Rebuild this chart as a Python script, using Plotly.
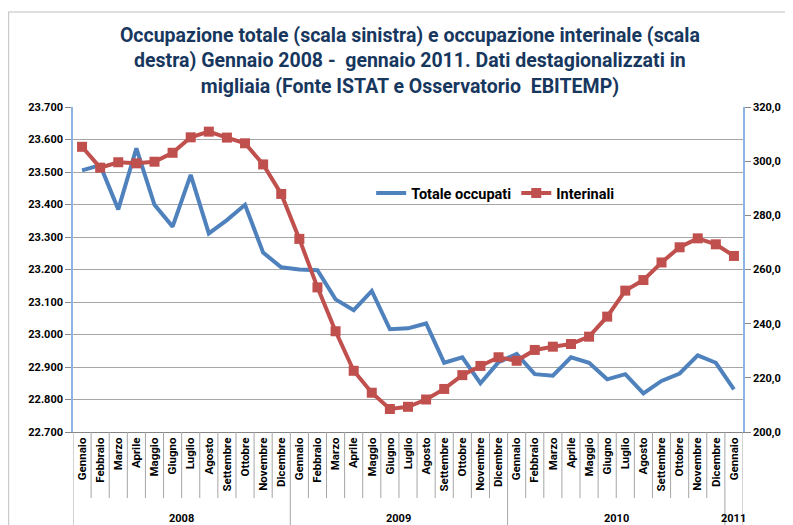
import plotly.graph_objects as go

months = ["Gennaio", "Febbraio", "Marzo", "Aprile", "Maggio", "Giugno", "Luglio", "Agosto",
          "Settembre", "Ottobre", "Novembre", "Dicembre"]
month_labels = months * 3 + ["Gennaio"]
years = ["2008", "2009", "2010", "2011"]

totale_occupati = [23505, 23521, 23385, 23573, 23399, 23332, 23491, 23311, 23352, 23399, 23252, 23207,
                   23200, 23198, 23108, 23075, 23134, 23016, 23019, 23034, 22913, 22930, 22850, 22915,
                   22940, 22878, 22873, 22930, 22913, 22862, 22878, 22819, 22857, 22880, 22936, 22913,
                   22831]
interinali = [305.3, 297.6, 299.6, 299.2, 299.8, 303.1, 308.8, 310.9, 308.7, 306.6, 298.8, 287.9,
              271.3, 253.4, 237.2, 222.6, 214.5, 208.5, 209.3, 212.0, 215.9, 221.0, 224.4, 227.6,
              226.3, 230.3, 231.5, 232.5, 235.2, 242.6, 252.2, 256.1, 262.6, 268.2, 271.5, 269.3,
              265.0]

left_ticks = [22700, 22800, 22900, 23000, 23100, 23200, 23300, 23400, 23500, 23600, 23700]
left_labels = ["22.700", "22.800", "22.900", "23.000", "23.100", "23.200", "23.300", "23.400",
               "23.500", "23.600", "23.700"]
right_ticks = [200, 220, 240, 260, 280, 300, 320]
right_labels = ["200,0", "220,0", "240,0", "260,0", "280,0", "300,0", "320,0"]

FONT = "Roboto, Liberation Sans, sans-serif"
BLUE = "#4F81BD"
RED = "#C0504D"
n = len(month_labels)
x = list(range(n))

# the page body has an 8px margin, so the figure is sized to fill the rest
W, H = 785, 517
L, R, T, B = 65, 48, 99, 93
PH = H - T - B  # plot height in px
PW = W - L - R

fig = go.Figure()
fig.add_trace(go.Scatter(x=x, y=totale_occupati, name="Totale occupati", mode="lines",
                         line=dict(color=BLUE, width=4), yaxis="y"))
fig.add_trace(go.Scatter(x=x, y=interinali, name="Interinali", mode="lines+markers",
                         line=dict(color=RED, width=4),
                         marker=dict(symbol="square", size=10, color=RED), yaxis="y2"))

shapes = []
# outer frame (top and left edges)
shapes.append(dict(type="line", xref="paper", yref="paper", x0=-L / PW, x1=(W - L) / PW,
                   y0=(PH + T - 4) / PH, y1=(PH + T - 4) / PH,
                   line=dict(color="#BFBFBF", width=1), layer="below"))
shapes.append(dict(type="line", xref="paper", yref="paper", x0=(-L + 0.5) / PW,
                   x1=(-L + 0.5) / PW, y0=-B / PH, y1=(PH + T - 4) / PH,
                   line=dict(color="#BFBFBF", width=1), layer="below"))
# month separators
for i in range(n + 1):
    xv = i - 0.5
    is_year = i % 12 == 0 or i == n
    shapes.append(dict(type="line", xref="x", yref="paper", x0=xv, x1=xv, y0=0,
                       y1=-B / PH if is_year else -66 / PH,
                       line=dict(color="#A6A6A6", width=1)))

annotations = []
year_centers = [5.5, 17.5, 29.5, 36]
for yv, xc in zip(years, year_centers):
    annotations.append(dict(text=yv, x=xc, xref="x", y=-86 / PH, yref="paper", showarrow=False,
                            font=dict(family=FONT, size=11, color="black", weight="bold"),
                            xanchor="center", yanchor="middle"))

fig.update_layout(
    width=W, height=H,
    paper_bgcolor="white", plot_bgcolor="white",
    margin=dict(l=L, r=R, t=T, b=B),
    title=dict(text="Occupazione totale (scala sinistra) e occupazione interinale (scala<br>"
                    "destra) Gennaio 2008 -  gennaio 2011. Dati destagionalizzati in<br>"
                    "migliaia (Fonte ISTAT e Osservatorio  EBITEMP)",
               x=0.512, xanchor="center", y=1 - 34 / H, yanchor="top",
               font=dict(family=FONT, size=19.5, color="#17375E", weight="bold")),
    xaxis=dict(range=[-0.5, n - 0.5], tickvals=x, ticktext=month_labels, tickangle=-90,
               showgrid=False, zeroline=False, showline=True, linecolor="#868686", linewidth=1,
               ticks="", tickfont=dict(family=FONT, size=11.5, color="black", weight="bold")),
    yaxis=dict(range=[22700, 23700], tickvals=left_ticks, ticktext=left_labels,
               showgrid=True, gridcolor="#A6A6A6", gridwidth=1, zeroline=False,
               showline=True, linecolor="#8EB4E3", linewidth=1.5, ticks="outside", ticklen=6,
               tickcolor="#868686",
               tickfont=dict(family=FONT, size=11, color="black", weight="bold")),
    yaxis2=dict(range=[200, 320], tickvals=right_ticks, ticktext=right_labels, overlaying="y",
                side="right", showgrid=False, zeroline=False, showline=True,
                linecolor="#8EB4E3", linewidth=1.5, ticks="outside", ticklen=6,
                tickcolor="#868686",
                tickfont=dict(family=FONT, size=11, color="black", weight="bold")),
    legend=dict(orientation="h", x=0.445, y=0.735, xanchor="left", yanchor="middle",
                bgcolor="rgba(0,0,0,0)", itemwidth=30,
                font=dict(family=FONT, size=14.5, color="black", weight="bold")),
    shapes=shapes,
    annotations=annotations,
)

fig.write_html("out.html")
